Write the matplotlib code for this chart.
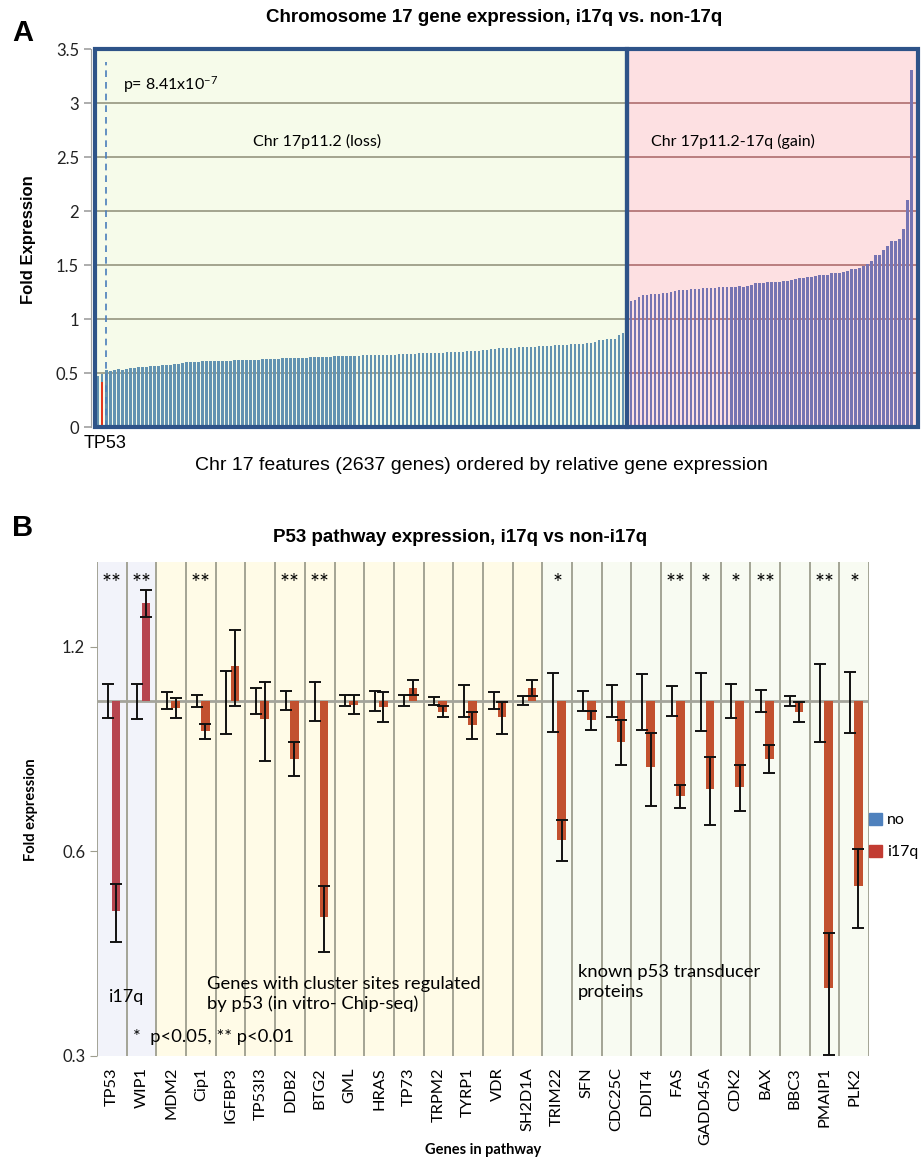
import numpy as np
import matplotlib
matplotlib.use("Agg")
import matplotlib.pyplot as plt
from matplotlib.patches import Rectangle, Patch
from matplotlib.ticker import FixedLocator, NullLocator, FixedFormatter

plt.rcParams['font.family'] = ['Lato', 'DejaVu Sans']
plt.rcParams['mathtext.default'] = 'regular'

# ---- panel A data: chr17 genes ordered by fold expression (loss / gain)
loss_vals = [0.469, 0.488, 0.525, 0.518, 0.528, 0.534, 0.531, 0.534, 0.543, 0.543,
             0.552, 0.555, 0.558, 0.561, 0.561, 0.561, 0.571, 0.571, 0.574, 0.580,
             0.586, 0.592, 0.598, 0.601, 0.601, 0.604, 0.607, 0.607, 0.607, 0.610,
             0.613, 0.613, 0.613, 0.613, 0.617, 0.617, 0.623, 0.623, 0.623, 0.623,
             0.623, 0.629, 0.629, 0.629, 0.632, 0.632, 0.638, 0.638, 0.638, 0.638,
             0.638, 0.641, 0.641, 0.644, 0.647, 0.650, 0.650, 0.650, 0.650, 0.656,
             0.656, 0.660, 0.660, 0.660, 0.660, 0.660, 0.663,
             0.666, 0.666, 0.666, 0.669, 0.669, 0.669, 0.669, 0.669, 0.672, 0.672,
             0.675, 0.678, 0.678, 0.681, 0.684, 0.684, 0.684, 0.687, 0.687, 0.687,
             0.690, 0.693, 0.696, 0.696, 0.699, 0.702, 0.706, 0.706, 0.706, 0.712,
             0.715, 0.718, 0.724, 0.727, 0.727, 0.730, 0.733, 0.733, 0.739, 0.742,
             0.742, 0.745, 0.745, 0.748, 0.748, 0.748, 0.752, 0.755, 0.758, 0.761,
             0.761, 0.764, 0.767, 0.770, 0.770, 0.776, 0.782, 0.788, 0.801, 0.810,
             0.813, 0.813, 0.819, 0.850, 0.874]
gain_vals = [1.170, 1.179, 1.203, 1.218, 1.221, 1.230, 1.233, 1.233, 1.239, 1.242,
             1.252, 1.255, 1.267, 1.267, 1.267, 1.276, 1.279, 1.279, 1.288, 1.288,
             1.291, 1.291, 1.294, 1.294, 1.297, 1.297, 1.297, 1.303, 1.300, 1.306,
             1.312, 1.333, 1.333, 1.336, 1.339, 1.342, 1.342, 1.345, 1.348, 1.352,
             1.364, 1.367, 1.382, 1.382, 1.385, 1.385, 1.397, 1.406, 1.406, 1.406,
             1.424, 1.427, 1.430, 1.433, 1.442, 1.461, 1.464, 1.476, 1.494, 1.509,
             1.539, 1.593, 1.596, 1.639, 1.676, 1.719, 1.722, 1.741, 1.830, 2.099,
             3.306]
tp53_index = 1
tp53_fold = 0.42
a_yticks = [0, 0.5, 1, 1.5, 2, 2.5, 3, 3.5]
a_ylabels = ['0', '0.5', '1', '1.5', '2', '2.5', '3', '3.5']

# ---- panel B data: p53 pathway genes
genes = ["TP53", "WIP1", "MDM2", "Cip1", "IGFBP3", "TP53I3", "DDB2", "BTG2", "GML",
         "HRAS", "TP73", "TRPM2", "TYRP1", "VDR", "SH2D1A", "TRIM22", "SFN", "CDC25C",
         "DDIT4", "FAS", "GADD45A", "CDK2", "BAX", "BBC3", "PMAIP1", "PLK2"]
group_sizes = [2, 13, 11]
no_vals = [1.0] * 26
no_err = [0.058, 0.060, 0.029, 0.021, 0.106, 0.045, 0.032, 0.067, 0.019, 0.034,
          0.018, 0.013, 0.053, 0.029, 0.016, 0.100, 0.034, 0.055, 0.096, 0.050,
          0.097, 0.057, 0.036, 0.017, 0.131, 0.103]
i17q_vals = [0.490, 1.391, 0.976, 0.901, 1.126, 0.940, 0.822, 0.480, 0.987, 0.980,
             1.045, 0.963, 0.921, 0.945, 1.045, 0.624, 0.936, 0.870, 0.798, 0.723,
             0.741, 0.746, 0.822, 0.963, 0.378, 0.534]
i17q_err = [0.048, 0.065, 0.032, 0.024, 0.143, 0.124, 0.046, 0.053, 0.031, 0.049,
            0.026, 0.018, 0.043, 0.051, 0.029, 0.044, 0.031, 0.066, 0.097, 0.028,
            0.085, 0.058, 0.040, 0.032, 0.077, 0.071]
stars = ["**", "**", "", "**", "", "", "**", "**", "", "", "", "", "", "", "",
         "*", "", "", "", "**", "*", "*", "**", "", "**", "*"]
b_yticks = [0.3, 0.6, 1.2]

W, H = 921, 1162
fig = plt.figure(figsize=(W / 100, H / 100), dpi=100)

# ================= panel A =================
axA = fig.add_axes([95 / W, 1 - 427 / H, (918 - 95) / W, (427 - 49) / H])
n_loss = len(loss_vals)
x_loss = np.arange(n_loss)
x_gain = n_loss + 1 + np.arange(len(gain_vals))
split = n_loss
x0, x1 = -0.82, 204.6
axA.set_xlim(x0, x1)
axA.set_ylim(0, 3.5)

axA.axvspan(x0, split, color='#f6fbea', zorder=0)
axA.axvspan(split, x1, color='#fde0e2', zorder=0)
for y in a_yticks[1:-1]:
    axA.plot([x0, split], [y, y], color='#8d8d76', lw=1.1, zorder=1)
    axA.plot([split, x1], [y, y], color='#a86464', lw=1.1, zorder=1)

axA.bar(x_loss, loss_vals, width=0.6, color='#6393b1', zorder=2)
axA.bar(x_gain, gain_vals, width=0.6, color='#7674b2', zorder=2)
axA.bar(tp53_index, tp53_fold, width=0.45, color='#e3361c', zorder=3)
axA.vlines(2, 0, 3.38, colors='#4a7ebb', linestyles=(0, (4, 3)), lw=1.2, zorder=3)

for (a, b) in [(x0, split), (split, x1)]:
    axA.add_patch(Rectangle((a, 0), b - a, 3.5, fill=False, ec='#2e5388', lw=3,
                            zorder=4, clip_on=False))

for s in ['top', 'right', 'bottom']:
    axA.spines[s].set_visible(False)
axA.spines['left'].set_color('#a0a0a0')
axA.spines['left'].set_position(('outward', 3))
axA.set_xticks([])
axA.set_yticks(a_yticks)
axA.set_yticklabels(a_ylabels, fontsize=12)
axA.tick_params(axis='y', colors='#a0a0a0', labelcolor='#222222', length=5, width=1.2)

axA.text(6.2, 3.17, 'p= 8.41x10$^{-7}$', fontsize=11.5, va='center', ha='left')
axA.text(38.6, 2.64, 'Chr 17p11.2 (loss)', fontsize=11.5, va='center', ha='left')
axA.text(137.9, 2.64, 'Chr 17p11.2-17q (gain)', fontsize=11.5, va='center', ha='left')
axA.text(1.7, -0.07, 'TP53', fontsize=13, va='top', ha='center',
         family='Liberation Sans')

fig.text(0.537, 1 - 18 / H, 'Chromosome 17 gene expression, i17q vs. non-17q',
         ha='center', va='center', fontsize=13.5, fontweight='bold',
         family='Liberation Sans')
fig.text(0.523, 1 - 466 / H,
         'Chr 17 features (2637 genes) ordered by relative gene expression',
         ha='center', va='center', fontsize=14, family='Liberation Sans')
fig.text(28 / W, 1 - 240 / H, 'Fold Expression', rotation=90, ha='center',
         va='center', fontsize=12, fontweight='bold', family='Liberation Sans')
fig.text(12 / W, 1 - 33 / H, 'A', fontsize=21, fontweight='bold', va='center',
         family='Liberation Sans')

# ================= panel B =================
axB = fig.add_axes([97 / W, 1 - 1056 / H, 772 / W, 494 / H])
axB.set_yscale('log', base=2)
axB.set_ylim(0.3, 1.6)
axB.set_xlim(-0.5, len(genes) - 0.5)
xb = np.arange(len(genes))

bg_colors = ['#f2f3fa', '#fffbe7', '#f8fbf2']
start = 0
for size, c in zip(group_sizes, bg_colors):
    axB.axvspan(start - 0.5, start + size - 0.5, color=c, zorder=0)
    start += size
for k in range(len(genes) + 1):
    axB.axvline(k - 0.5, color='#9d9d8e', lw=1.3, zorder=1)
axB.axhline(1.0, color='#a4a49b', lw=2, zorder=1)

bar_cols = ['#b7464f'] * group_sizes[0] + ['#c2512f'] * (len(genes) - group_sizes[0])
no_h = [v - 1 for v in no_vals]
i17_h = [v - 1 for v in i17q_vals]
axB.bar(xb - 0.145, no_h, bottom=1, width=0.29, color='#4f81bd', zorder=2)
axB.bar(xb + 0.145, i17_h, bottom=1, width=0.29, color=bar_cols, zorder=2)
axB.errorbar(xb - 0.145, no_vals, yerr=no_err, fmt='none', ecolor='#111111',
             elinewidth=1.4, capsize=4, capthick=1.4, zorder=3)
axB.errorbar(xb + 0.145, i17q_vals, yerr=i17q_err, fmt='none', ecolor='#111111',
             elinewidth=1.4, capsize=4, capthick=1.4, zorder=3)

for i, s in enumerate(stars):
    if s:
        axB.text(i, 1.49, s, ha='center', va='center', fontsize=17)

axB.text(-0.1, 0.367, 'i17q', fontsize=13, va='center', ha='left')
axB.text(3.2, 0.370, 'Genes with cluster sites regulated\nby p53 (in vitro- Chip-seq)',
         fontsize=13.2, va='center', ha='left', linespacing=1.3)
axB.text(15.7, 0.386, 'known p53 transducer\nproteins', fontsize=13.2, va='center',
         ha='left', linespacing=1.3)
axB.text(0.71, 0.320, '*  p<0.05, ** p<0.01', fontsize=13.2, va='center', ha='left')

for s in ['top', 'right', 'bottom', 'left']:
    axB.spines[s].set_visible(False)
axB.yaxis.set_major_locator(FixedLocator(b_yticks))
axB.yaxis.set_major_formatter(FixedFormatter([str(v) for v in b_yticks]))
axB.yaxis.set_minor_locator(NullLocator())
axB.tick_params(axis='y', colors='#9d9d8e', labelcolor='#222222', length=5,
                labelsize=12)
axB.set_xticks(xb)
axB.set_xticklabels(genes, rotation=90, fontsize=11.8)
axB.tick_params(axis='x', length=0, pad=8)

fig.text(483 / W, 1 - 1150 / H, 'Genes in pathway', ha='center', va='center',
         fontsize=10.5, fontweight='bold')
fig.text(31 / W, 1 - 810 / H, 'Fold expression', rotation=90, ha='center',
         va='center', fontsize=10.5, fontweight='bold')

fig.legend(handles=[Patch(color='#4f81bd', label='no'),
                    Patch(color='#c23b32', label='i17q')],
           loc='center left', bbox_to_anchor=(869 / W, 1 - 836 / H), frameon=False,
           fontsize=11.5, handlelength=0.8, handleheight=0.8, handletextpad=0.35,
           labelspacing=1.1, borderpad=0, borderaxespad=0)

fig.text(0.5, 1 - 537 / H, 'P53 pathway expression, i17q vs non-i17q', ha='center',
         va='center', fontsize=13.5, fontweight='bold', family='Liberation Sans')
fig.text(12 / W, 1 - 528 / H, 'B', fontsize=21, fontweight='bold', va='center',
         family='Liberation Sans')

fig.savefig('out.png', dpi=100)
